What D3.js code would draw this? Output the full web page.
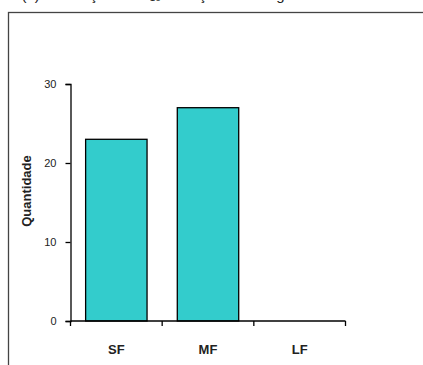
<!DOCTYPE html>
<html>
<head>
<meta charset="utf-8">
<script src="https://cdn.jsdelivr.net/npm/d3@7"></script>
<style>
  body { margin: 0; background: #fff; }
  svg { display: block; }
</style>
</head>
<body>
<script>
// data
var categories = ["SF", "MF", "LF"];
var values = [23, 27, 0];
var yTicks = [0, 10, 20, 30];

var w = 423, h = 365;
var padL = 70.5, padR = 345.5, padT = 84, padB = 321;

var svg = d3.select("body").append("svg")
    .attr("width", w)
    .attr("height", h);

// caption cut off at the top of the picture
svg.append("text")
    .attr("x", 4)
    .attr("y", 0)
    .attr("font-family", "Liberation Sans, Arial, sans-serif")
    .attr("font-size", "15px")
    .attr("fill", "#222")
    .text("ra (a) em função de C\u2081\u2080 e função de categ");

// outer frame
svg.append("rect")
    .attr("x", 8.5).attr("y", 12.5)
    .attr("width", 430).attr("height", 370)
    .attr("fill", "none")
    .attr("stroke", "#444")
    .attr("stroke-width", 1.3);

var xScale = d3.scaleBand()
    .domain(categories)
    .range([padL, padR])
    .padding(0);
var yScale = d3.scaleLinear()
    .domain([0, 30])
    .range([padB, padT]);

var inset = 0.165; // bar gap inside each category
svg.selectAll("rect.bar")
    .data(values)
    .enter()
    .append("rect")
    .attr("class", "bar")
    .attr("x", function(d, i) { return xScale(categories[i]) + xScale.bandwidth() * inset; })
    .attr("y", function(d) { return yScale(d); })
    .attr("width", xScale.bandwidth() * (1 - 2 * inset))
    .attr("height", function(d) { return padB - yScale(d); })
    .attr("fill", "#33CCCC")
    .attr("stroke", "#000")
    .attr("stroke-width", function(d) { return d > 0 ? 1.3 : 0; });

// y axis
var yAxis = svg.append("g")
    .attr("transform", "translate(" + padL + ",0)")
    .call(d3.axisLeft(yScale).tickValues(yTicks).tickSize(5).tickPadding(9));
yAxis.select(".domain").attr("stroke-width", 1.3);
yAxis.selectAll("line").attr("stroke-width", 1.3);
yAxis.selectAll("text")
    .attr("font-family", "Liberation Sans, Arial, sans-serif")
    .attr("font-size", "11px")
    .attr("fill", "#222");

// x axis: ticks on category boundaries
var boundaries = categories.map(function(c) { return xScale(c); }).concat([padR]);
svg.append("line")
    .attr("x1", padL).attr("x2", padR)
    .attr("y1", padB).attr("y2", padB)
    .attr("stroke", "#000").attr("stroke-width", 1.3);
svg.selectAll("line.xtick")
    .data(boundaries)
    .enter()
    .append("line")
    .attr("class", "xtick")
    .attr("x1", function(d) { return d; }).attr("x2", function(d) { return d; })
    .attr("y1", padB).attr("y2", padB + 5)
    .attr("stroke", "#000").attr("stroke-width", 1.3);
svg.selectAll("text.xlabel")
    .data(categories)
    .enter()
    .append("text")
    .attr("class", "xlabel")
    .attr("x", function(d) { return xScale(d) + xScale.bandwidth() / 2; })
    .attr("y", 354)
    .attr("text-anchor", "middle")
    .attr("font-family", "Liberation Sans, Arial, sans-serif")
    .attr("font-size", "13px")
    .attr("font-weight", "bold")
    .attr("fill", "#222")
    .text(function(d) { return d; });

// y title
svg.append("text")
    .attr("transform", "translate(31,191) rotate(-90)")
    .attr("text-anchor", "middle")
    .attr("font-family", "Liberation Sans, Arial, sans-serif")
    .attr("font-size", "13px")
    .attr("font-weight", "bold")
    .attr("fill", "#222")
    .text("Quantidade");
</script>
</body>
</html>
